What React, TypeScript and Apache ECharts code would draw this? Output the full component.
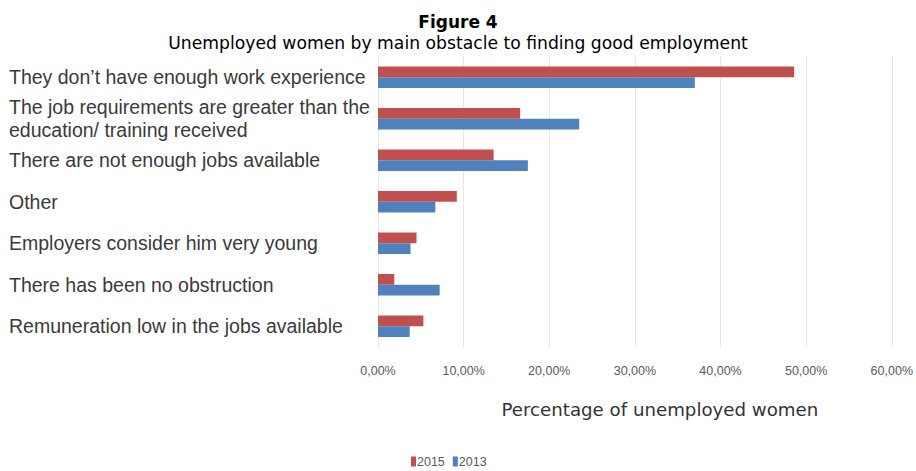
import React, { useEffect, useRef } from "react";
import * as echarts from "echarts";

const categories = [
  "They don\u2019t have enough work experience",
  "The job requirements are greater than the\neducation/ training received",
  "There are not enough jobs available",
  "Other",
  "Employers consider him very young",
  "There has been no obstruction",
  "Remuneration low in the jobs available",
];
const values2015 = [48.6, 16.6, 13.5, 9.2, 4.5, 1.9, 5.3];
const values2013 = [37.0, 23.5, 17.5, 6.7, 3.8, 7.2, 3.7];
const seriesNames = ["2015", "2013"];

export default function App() {
  const ref = useRef<HTMLDivElement>(null);
  useEffect(() => {
    document.body.style.margin = "0";
    const chart = echarts.init(ref.current!, null, { renderer: "svg" });
    chart.setOption({
      animation: false,
      backgroundColor: "#ffffff",
      title: {
        text: "Figure 4",
        subtext: "Unemployed women by main obstacle to finding good employment",
        left: "center",
        top: 8,
        itemGap: 4,
        textStyle: { fontFamily: "DejaVu Sans", fontSize: 17, fontWeight: "bold", color: "#000" },
        subtextStyle: { fontFamily: "DejaVu Sans", fontSize: 17.2, color: "#000" },
      },
      legend: {
        top: 450,
        left: 406,
        itemWidth: 5,
        itemHeight: 10,
        itemGap: 8,
        icon: "rect",
        textStyle: { fontFamily: "Liberation Sans, Arial", fontSize: 12.5, color: "#595959", padding: [0, 0, 0, -4] },
        data: seriesNames,
      },
      grid: { left: 378, right: 21, top: 56.5, bottom: 124 },
      xAxis: {
        type: "value",
        min: 0,
        max: 60,
        interval: 10,
        axisLine: { show: false },
        axisTick: { show: false },
        splitLine: { lineStyle: { color: "#e6e6e6", width: 1 } },
        axisLabel: {
          margin: 17,
          fontFamily: "Liberation Sans, Arial",
          fontSize: 12.5,
          color: "#595959",
          formatter: (v: number) => v.toFixed(2).replace(".", ",") + "%",
        },
        name: "Percentage of unemployed women",
        nameLocation: "middle",
        nameGap: 53,
        nameTextStyle: { fontFamily: "DejaVu Sans", fontSize: 18.2, color: "#333", padding: [0, 0, 0, 50] },
      },
      yAxis: {
        type: "category",
        inverse: true,
        data: categories,
        axisLine: { show: false },
        axisTick: { show: false },
        axisLabel: {
          align: "left",
          margin: 369,
          fontFamily: "Liberation Sans, Arial",
          fontSize: 19.5,
          lineHeight: 23,
          color: "#3a3a3a",
        },
      },
      series: [
        {
          name: seriesNames[0],
          type: "bar",
          data: values2015,
          barGap: "0%",
          barCategoryGap: "48%",
          itemStyle: { color: "#C0504D" },
        },
        {
          name: seriesNames[1],
          type: "bar",
          data: values2013,
          barGap: "0%",
          barCategoryGap: "48%",
          itemStyle: { color: "#4F81BD" },
        },
      ],
    });
    return () => chart.dispose();
  }, []);
  return <div ref={ref} style={{ width: 916, height: 471 }} />;
}
